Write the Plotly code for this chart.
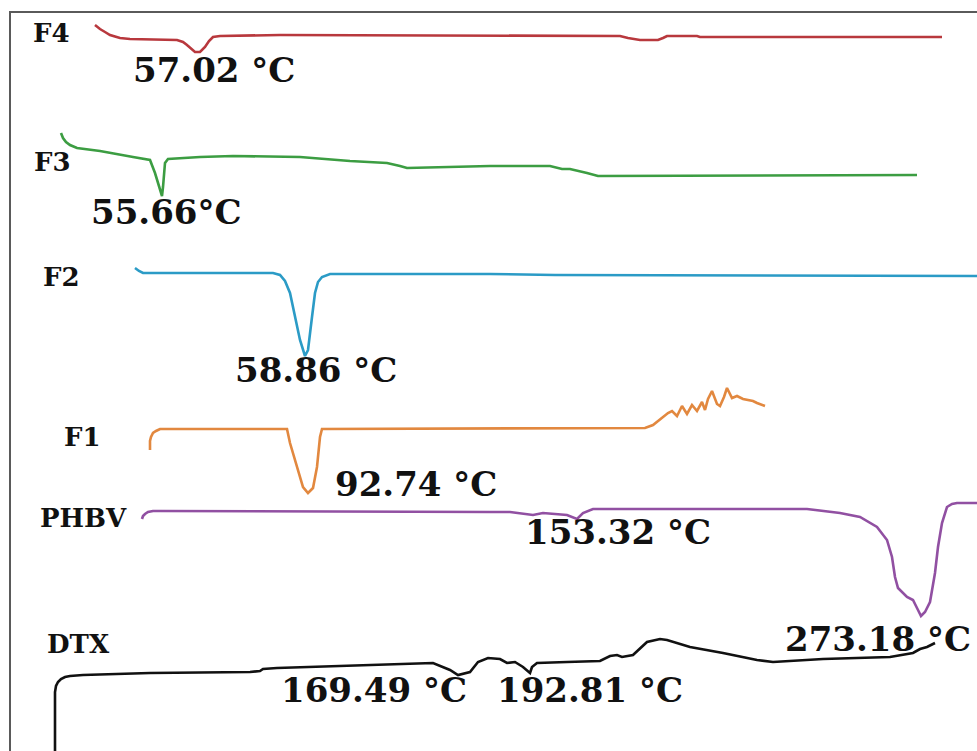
import plotly.graph_objects as go

# Stacked DSC thermograms, traced on a shared canvas (x: position along scan, y: offset trace level)

f4_x = [95, 100, 105, 110, 120, 130, 177, 183, 187, 195, 200, 205, 209, 213, 220, 280, 620, 628, 640,
        658, 663, 667, 697, 700, 942]
f4_y = [25, 29, 32, 35, 38, 39, 40, 42, 45, 52, 52, 47, 41, 37, 36, 35, 36, 38, 40,
        40, 38, 36, 36, 37, 37]

f3_x = [61, 63, 66, 70, 77, 100, 133, 150, 155, 160, 162, 163, 165, 168, 200, 233, 300, 350, 387, 400,
        407, 490, 550, 562, 570, 587, 598, 917]
f3_y = [133, 138, 142, 145, 148, 151, 157, 160, 173, 190, 196, 187, 163, 159, 157, 156, 157, 161, 163, 166,
        168, 166, 166, 169, 169, 173, 176, 175]

f2_x = [135, 139, 143, 273, 280, 285, 290, 295, 300, 305, 308, 312, 315, 318, 322, 330, 490, 555, 977]
f2_y = [268, 271, 273, 273, 275, 281, 293, 317, 340, 356, 350, 317, 293, 282, 277, 274, 274, 275, 276]

f1_x = [150, 150, 151, 153, 156, 160, 165, 287, 290, 297, 303, 308, 313, 317, 320, 322, 645, 653, 663,
        668, 672, 677, 682, 687, 692, 697, 702, 705, 708, 712, 717, 720, 724, 727, 732, 737, 743, 753,
        757, 765]
f1_y = [450, 441, 437, 433, 431, 429, 429, 429, 443, 467, 487, 493, 488, 467, 437, 429, 428, 425, 417,
        413, 411, 416, 406, 414, 405, 411, 402, 410, 399, 391, 404, 406, 397, 388, 398, 396, 399, 401,
        403, 406]

phbv_x = [142, 143, 145, 148, 153, 160, 490, 510, 533, 543, 567, 577, 583, 593, 807, 840, 860, 877, 887,
          892, 895, 898, 907, 913, 917, 921, 925, 930, 935, 938, 942, 947, 952, 957, 977]
phbv_y = [519, 516, 514, 512, 511, 511, 512, 512, 515, 513, 515, 519, 513, 509, 509, 513, 517, 527, 540,
          557, 577, 588, 597, 600, 608, 616, 612, 602, 573, 547, 523, 507, 504, 503, 503]

dtx_x = [55, 55, 55, 56, 58, 61, 65, 70, 83, 150, 250, 260, 263, 277, 433, 450, 458, 470, 478, 488, 500,
         507, 515, 523, 530, 532, 537, 567, 600, 610, 617, 622, 633, 647, 660, 667, 690, 723, 757, 773,
         823, 890, 913, 920, 927, 935]
dtx_y = [751, 700, 692, 686, 682, 679, 677, 676, 675, 673, 672, 671, 669, 668, 663, 670, 675, 672, 662,
         658, 659, 663, 662, 667, 673, 667, 663, 662, 661, 656, 655, 657, 655, 642, 639, 640, 647, 653,
         660, 662, 659, 657, 653, 649, 647, 643]

series_names = ["F4", "F3", "F2", "F1", "PHBV", "DTX"]
series_colors = ["#b8383d", "#3c9d42", "#2b9bc6", "#e2883f", "#9150a2", "#111111"]
series_x = [f4_x, f3_x, f2_x, f1_x, phbv_x, dtx_x]
series_y = [f4_y, f3_y, f2_y, f1_y, phbv_y, dtx_y]

# name label positions (left of each trace)
name_x = [51, 52, 61, 82, 83, 78]
name_y = [33, 162, 277, 437, 518, 644]

# peak temperature annotations
peak_text = ["57.02 °C", "55.66°C", "58.86 °C", "92.74 °C", "153.32 °C", "273.18 °C",
             "169.49 °C", "192.81 °C"]
peak_x = [214, 166, 316, 416, 618, 878, 374, 590]
peak_y = [70, 212, 370, 484, 532, 639, 690, 690]

fig = go.Figure()
for name, color, xs, ys in zip(series_names, series_colors, series_x, series_y):
    fig.add_trace(go.Scatter(x=xs, y=ys, mode="lines", name=name,
                             line=dict(color=color, width=2.6), hoverinfo="skip"))

label_font = dict(family="DejaVu Serif", size=26, color="#111111", weight="bold")
for t, x, y in zip(series_names, name_x, name_y):
    fig.add_annotation(x=x, y=y, text=t, showarrow=False, font=label_font,
                       xanchor="center", yanchor="middle")

peak_font = dict(family="DejaVu Serif", size=34, color="#111111", weight="bold")
for t, x, y in zip(peak_text, peak_x, peak_y):
    fig.add_annotation(x=x, y=y, text=t, showarrow=False, font=peak_font,
                       xanchor="center", yanchor="middle")

fig.update_layout(
    width=977, height=751,
    margin=dict(l=11, r=0, t=13, b=0),
    paper_bgcolor="white", plot_bgcolor="white",
    showlegend=False,
    xaxis=dict(range=[11, 977], side="top", showline=True, linecolor="#5a5a5a", linewidth=2,
               showgrid=False, zeroline=False, showticklabels=False, ticks=""),
    yaxis=dict(range=[751, 13], showline=True, linecolor="#5a5a5a", linewidth=2,
               showgrid=False, zeroline=False, showticklabels=False, ticks=""),
)

fig.write_html("out.html")
